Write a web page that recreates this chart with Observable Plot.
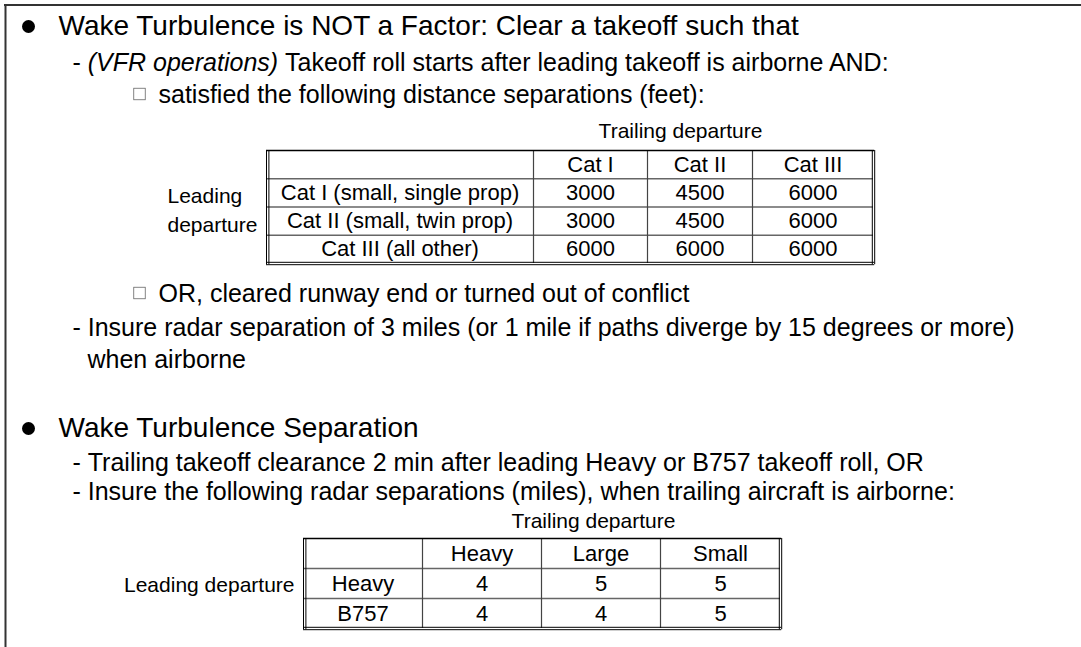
<!DOCTYPE html>
<html><head><meta charset="utf-8">
<script src="https://cdn.jsdelivr.net/npm/d3@7"></script>
<script src="https://cdn.jsdelivr.net/npm/@observablehq/plot@0.6"></script>
<style>html,body{margin:0;padding:0;background:#fff;overflow:hidden}</style>
</head><body><div id="chart"></div>
<script>
// ---------------- data ----------------
const outlineLevels  = [1, 2, 3, 3, 2, 2, 1, 2, 2];
const outlineMarkers = ["bullet", "dash", "box", "box", "dash", "cont", "bullet", "dash", "dash"];
const outlineItalic  = ["", "(VFR operations)", "", "", "", "", "", "", ""];
const outlineTexts = [
  "Wake Turbulence is NOT a Factor: Clear a takeoff such that",
  "Takeoff roll starts after leading takeoff is airborne AND:",
  "satisfied the following distance separations (feet):",
  "OR, cleared runway end or turned out of conflict",
  "Insure radar separation of 3 miles (or 1 mile if paths diverge by 15 degrees or more)",
  "when airborne",
  "Wake Turbulence Separation",
  "Trailing takeoff clearance 2 min after leading Heavy or B757 takeoff roll, OR",
  "Insure the following radar separations (miles), when trailing aircraft is airborne:"
];

const t1Title = "Trailing departure";
const t1RowTitle = ["Leading", "departure"];
const t1Cols = ["Cat I", "Cat II", "Cat III"];
const t1Rows = ["Cat I (small, single prop)", "Cat II (small, twin prop)", "Cat III (all other)"];
const t1Values = [[3000, 4500, 6000], [3000, 4500, 6000], [6000, 6000, 6000]];

const t2Title = "Trailing departure";
const t2RowTitle = ["Leading departure"];
const t2Cols = ["Heavy", "Large", "Small"];
const t2Rows = ["Heavy", "B757"];
const t2Values = [[4, 5, 5], [4, 4, 5]];

// ---------------- layout ----------------
const W = 1081, H = 647;
const FONT = "'Liberation Sans', Arial, Helvetica, sans-serif";
const L = {
  lineY: [26, 62, 94, 293, 327, 359, 428, 462, 491],
  textX: {bullet: 58, dash: 72, box: 158, cont: 87},
  bulletX: 28, bulletR: 6.5,
  boxX: 139.5, boxS: 11.5,
  size: {1: 28, 2: 25, 3: 25},
  t1: {colEdges: [266, 533, 647, 752, 873], top: 150, rowH: 28.25, fontSize: 22,
       title: {x: 680, y: 131, size: 21}, rowTitle: {x: 167, y: 207.5, size: 21, anchor: "start", lh: 1.38}},
  t2: {colEdges: [303, 422, 541, 660, 780], top: 538, rowH: 30, fontSize: 22,
       title: {x: 593, y: 521, size: 21}, rowTitle: {x: 294, y: 583, size: 21, anchor: "end", lh: 1.2}}
};

const ctx = document.createElement("canvas").getContext("2d");
function measure(text, size, italic) {
  ctx.font = `${italic ? "italic " : ""}${size}px ${FONT}`;
  return ctx.measureText(text).width;
}

// build outline text items
const normalText = [], italicText = [], bullets = [], boxes = [];
outlineTexts.forEach((t, i) => {
  const lvl = outlineLevels[i], m = outlineMarkers[i], size = L.size[lvl], y = L.lineY[i];
  let x = L.textX[m];
  if (m === "bullet") bullets.push({x: L.bulletX, y});
  if (m === "box") boxes.push({x1: L.boxX - L.boxS / 2, x2: L.boxX + L.boxS / 2, y1: y - L.boxS / 2, y2: y + L.boxS / 2});
  if (m === "dash") { normalText.push({x, y, text: "- ", size}); x += measure("- ", size, false); }
  if (outlineItalic[i]) {
    italicText.push({x, y, text: outlineItalic[i], size});
    x += measure(outlineItalic[i] + " ", size, true);
  }
  normalText.push({x, y, text: t, size});
});

function tableMarks(cfg, title, rowTitle, cols, rows, values) {
  const e = cfg.colEdges, left = e[0], right = e[e.length - 1];
  const rowEdges = d3.range(rows.length + 2).map(i => cfg.top + i * cfg.rowH);
  const bottom = rowEdges[rowEdges.length - 1];
  const yc = i => cfg.top + (i + 0.5) * cfg.rowH;
  const xc = j => (e[j] + e[j + 1]) / 2;
  const cells = [];
  cols.forEach((c, j) => cells.push({x: xc(j + 1), y: yc(0), text: c}));
  rows.forEach((r, i) => {
    cells.push({x: xc(0), y: yc(i + 1), text: r});
    values[i].forEach((v, j) => cells.push({x: xc(j + 1), y: yc(i + 1), text: String(v)}));
  });
  return [
    Plot.ruleY(rowEdges.slice(1, -1), {y: d => d, x1: left, x2: right, stroke: "#666", strokeWidth: 1.4}),
    Plot.ruleX(e.slice(1, -1), {x: d => d, y1: cfg.top, y2: bottom, stroke: "#444", strokeWidth: 1.2}),
    Plot.ruleY([cfg.top], {y: d => d, x1: left, x2: right + 1.2, stroke: "#000", strokeWidth: 1.4}),
    Plot.ruleY([bottom - 1.2, bottom + 1.2], {y: d => d, x1: left, x2: right + 1.2, stroke: "#000", strokeWidth: 1}),
    Plot.ruleX([left, left + 2.4], {x: d => d, y1: cfg.top, y2: bottom + 1.2, stroke: "#000", strokeWidth: 1}),
    Plot.ruleX([right - 1.2, right + 1.2], {x: d => d, y1: cfg.top, y2: bottom + 1.2, stroke: "#000", strokeWidth: 1}),
    Plot.text(cells, {x: "x", y: "y", text: "text", fontSize: cfg.fontSize, fontFamily: FONT,
      textAnchor: "middle", lineAnchor: "middle", fill: "#000"}),
    Plot.text([title], {x: cfg.title.x, y: cfg.title.y, text: d => d, fontSize: cfg.title.size, fontFamily: FONT,
      textAnchor: "middle", lineAnchor: "middle", fill: "#000"}),
    Plot.text([rowTitle.join("\n")], {x: cfg.rowTitle.x, y: cfg.rowTitle.y, text: d => d, fontSize: cfg.rowTitle.size,
      fontFamily: FONT, textAnchor: cfg.rowTitle.anchor, lineAnchor: "middle", lineHeight: cfg.rowTitle.lh, fill: "#000"})
  ];
}

const chart = Plot.plot({
  width: W, height: H, margin: 0,
  x: {type: "linear", domain: [0, W], range: [0, W], axis: null},
  y: {type: "linear", domain: [0, H], range: [0, H], axis: null},
  style: {fontFamily: FONT, background: "#fff", color: "#000"},
  marks: [
    // slide frame (top and left edges)
    Plot.ruleY([4.5], {y: d => d, x1: 4, x2: W, stroke: "#333", strokeWidth: 2}),
    Plot.ruleX([5], {x: d => d, y1: 4, y2: H, stroke: "#333", strokeWidth: 2}),
    Plot.dot(bullets, {x: "x", y: "y", r: L.bulletR, fill: "#000", stroke: "none"}),
    Plot.rect(boxes, {x1: "x1", x2: "x2", y1: "y1", y2: "y2", fill: "none", stroke: "#666", strokeWidth: 0.8}),
    Plot.text(normalText, {x: "x", y: "y", text: "text", fontSize: "size", fontFamily: FONT,
      textAnchor: "start", lineAnchor: "middle", fill: "#000"}),
    Plot.text(italicText, {x: "x", y: "y", text: "text", fontSize: "size", fontFamily: FONT, fontStyle: "italic",
      textAnchor: "start", lineAnchor: "middle", fill: "#000"}),
    ...tableMarks(L.t1, t1Title, t1RowTitle, t1Cols, t1Rows, t1Values),
    ...tableMarks(L.t2, t2Title, t2RowTitle, t2Cols, t2Rows, t2Values)
  ]
});
document.getElementById("chart").appendChild(chart);
</script>
</body></html>
